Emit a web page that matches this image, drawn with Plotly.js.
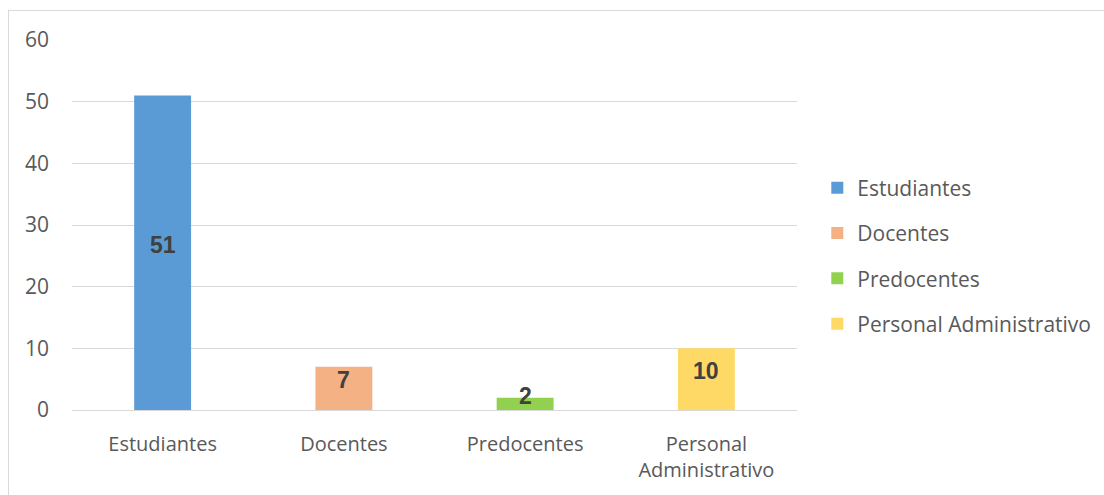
<!DOCTYPE html>
<html>
<head>
<meta charset="utf-8">
<script src="https://cdn.plot.ly/plotly-3.0.1.min.js"></script>
<style>
html,body{margin:0;padding:0;background:#fff;}
#frame{position:absolute;left:8px;top:10px;width:1110px;height:500px;border:1px solid #d9d9d9;box-sizing:border-box;}
#chart{position:absolute;left:0;top:0;width:1104px;height:495px;}
</style>
</head>
<body>
<div id="frame"></div>
<div id="chart"></div>
<script>
const categories = ["Estudiantes", "Docentes", "Predocentes", "Personal Administrativo"];
const tickLabels = ["Estudiantes", "Docentes", "Predocentes", "Personal<br>Administrativo"];
const values = [51, 7, 2, 10];
const colors = ["#5B9BD5", "#F4B183", "#92D050", "#FFD966"];

const traces = categories.map((c, i) => ({
  type: "bar",
  name: c,
  legendgroup: c,
  x: [c],
  y: [values[i]],
  marker: {color: colors[i]},
  hoverinfo: "skip"
}));

const annotations = categories.map((c, i) => ({
  x: c, y: values[i] / 2, xref: "x", yref: "y",
  text: String(values[i]),
  showarrow: false,
  yshift: 8,
  font: {family: "Liberation Sans, Arial, sans-serif", size: 23, color: "#404040", weight: "bold"}
}));

const layout = {
  width: 1104, height: 495,
  margin: {l: 72, r: 307, t: 40, b: 85, autoexpand: false},
  paper_bgcolor: "rgba(0,0,0,0)",
  plot_bgcolor: "rgba(0,0,0,0)",
  barmode: "overlay",
  bargap: 0.686,
  showlegend: true,
  font: {family: "Open Sans, sans-serif", color: "#595959", size: 20},
  xaxis: {
    type: "category",
    tickvals: categories,
    ticktext: tickLabels,
    showgrid: false,
    showline: true, linecolor: "#d9d9d9", linewidth: 1,
    ticks: "",
    ticklabelstandoff: 16,
    tickfont: {size: 20, color: "#595959"},
    fixedrange: true
  },
  yaxis: {
    range: [0, 60],
    dtick: 10,
    showgrid: true, gridcolor: "#d9d9d9", gridwidth: 1,
    zeroline: false,
    showline: false,
    ticks: "",
    ticklabelstandoff: 22,
    tickfont: {size: 21, color: "#595959"},
    fixedrange: true
  },
  legend: {
    x: 1.028, y: 0.416, xanchor: "left", yanchor: "middle",
    font: {size: 21, color: "#595959"},
    itemwidth: 30,
    tracegroupgap: 15,
    bgcolor: "rgba(0,0,0,0)"
  },
  annotations: annotations
};

Plotly.newPlot("chart", traces, layout, {displayModeBar: false, staticPlot: true});
</script>
</body>
</html>
